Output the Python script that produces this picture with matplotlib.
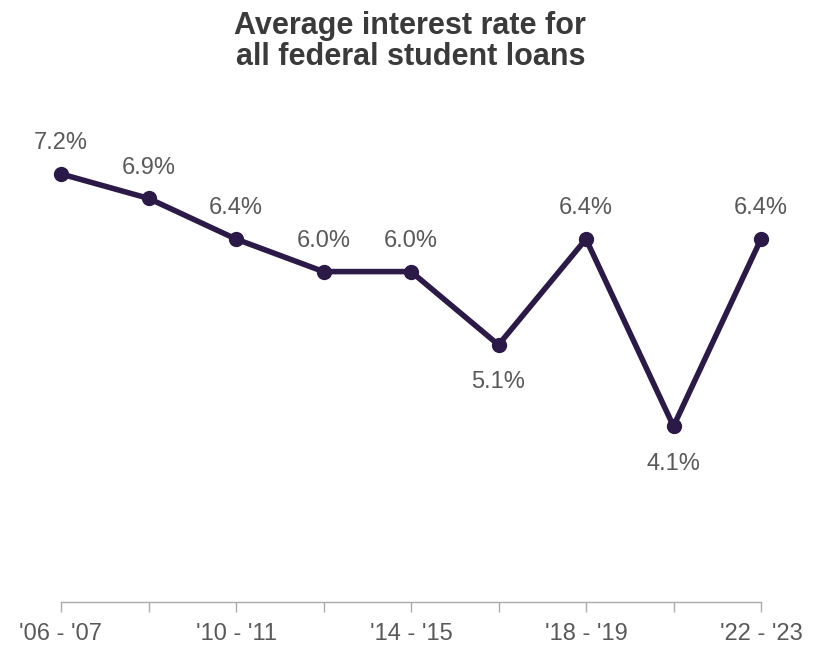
import matplotlib
matplotlib.use('Agg')
import matplotlib.pyplot as plt

# school years and average rate (%)
years = ["'06 - '07", "'08 - '09", "'10 - '11", "'12 - '13", "'14 - '15",
         "'16 - '17", "'18 - '19", "'20 - '21", "'22 - '23"]
rates = [7.2, 6.9, 6.4, 6.0, 6.0, 5.1, 6.4, 4.1, 6.4]
label_below = [False, False, False, False, False, True, False, True, False]

LINE_COLOR = '#2b1a47'
TEXT_COLOR = '#595959'

plt.rcParams['font.family'] = ['Liberation Sans', 'DejaVu Sans']

fig = plt.figure(figsize=(8.24, 6.45), dpi=100)
ax = fig.add_axes([61 / 824, 43 / 645, 700 / 824, 472 / 645])

x = list(range(len(years)))
ax.plot(x, rates, color=LINE_COLOR, linewidth=4, marker='o', markersize=10,
        solid_joinstyle='round', clip_on=False, zorder=3)

for xi, val, below in zip(x, rates, label_below):
    off = -27 if below else 22
    ax.annotate(f"{val:.1f}%", (xi, val), xytext=(0, off), textcoords='offset points',
                ha='center', va='center', fontsize=17, color=TEXT_COLOR)

ax.set_xlim(0, len(years) - 1)
ax.set_ylim(1.94, 7.74)
ax.set_xticks(x)
ax.set_xticklabels([lbl if i % 2 == 0 else '' for i, lbl in enumerate(years)])
ax.tick_params(axis='x', length=7, width=1, color='#aaaaaa', labelsize=17,
               labelcolor=TEXT_COLOR, pad=8)
ax.set_yticks([])
for side in ['top', 'right', 'left']:
    ax.spines[side].set_visible(False)
ax.spines['bottom'].set_color('#aaaaaa')
ax.spines['bottom'].set_linewidth(1)

fig.text(0.498, 1 - 11 / 645, "Average interest rate for\nall federal student loans",
         ha='center', va='top', fontsize=22, fontweight='bold', color='#3a3a3a',
         linespacing=1.05)

fig.savefig('out.png', dpi=100)
